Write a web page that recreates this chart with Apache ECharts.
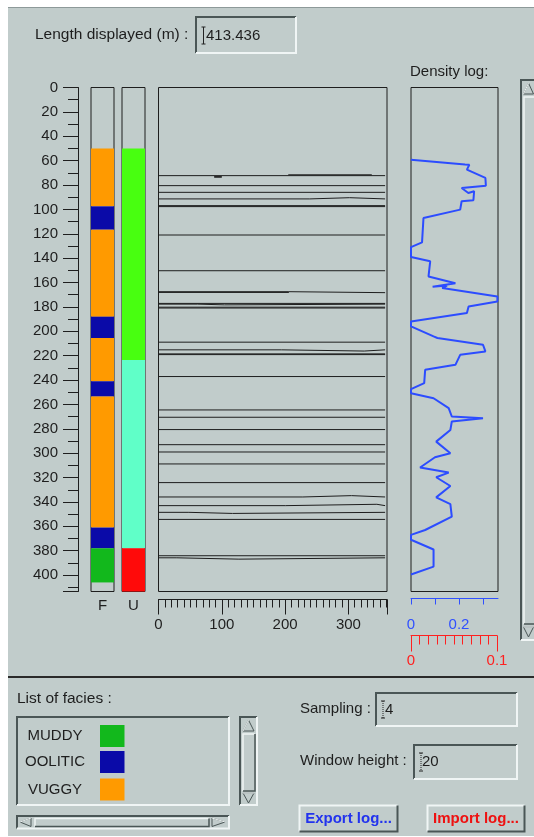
<!DOCTYPE html>
<html><head><meta charset="utf-8">
<script src="https://cdn.jsdelivr.net/npm/echarts@6/dist/echarts.min.js"></script>
<style>html,body{margin:0;padding:0;background:#fff;}#c{width:534px;height:837px;}</style>
</head><body><div id="c"></div>
<script>
// ---------------- data ----------------
const lengthDisplayed = 413.436;
const samplingValue = '4';
const windowHeightValue = '20';
const faciesNames = ['MUDDY', 'OOLITIC', 'VUGGY'];
const faciesColors = ['#12b81c', '#0a0aa8', '#ff9a00'];
// F column: [top depth, bottom depth, facies index]
const fColumn = [[50, 97.5, 2], [97.5, 116.6, 1], [116.6, 188, 2], [188, 205.5, 1], [205.5, 241, 2],
  [241, 253.5, 1], [253.5, 361, 2], [361, 378, 1], [378, 406, 0]];
const unitColors = ['#48ff10', '#60ffc8', '#ff0a0a'];
// U column: [top depth, bottom depth, unit index]
const uColumn = [[50, 223.5, 0], [223.5, 378, 1], [378, 413.436, 2]];
const columnNames = ['F', 'U'];
// blue density-axis labels shown
const densityAxisLabels = [0, 0.2];
// horizons in the central panel: polylines of [x, depth]
const horizons = [
  [[0, 72.3], [358, 72.3]], [[205, 71.6], [337, 71.6]], [[88, 73.1], [100, 73.1]], [[88, 73.6], [100, 73.6]],
  [[0, 80.5], [358, 80.5]],
  [[0, 86], [358, 86]],
  [[0, 91.4], [239, 91.4], [239, 90.4], [302, 90.4], [302, 91.4], [358, 91.4]],
  [[0, 96.9], [358, 96.9]], [[0, 97.7], [358, 97.7]],
  [[0, 121], [358, 121]],
  [[0, 150.3], [358, 150.3]],
  [[0, 167.5], [206, 167.5], [206, 168.3], [358, 168.3]], [[0, 168.1], [206, 168.1]],
  [[0, 177.1], [358, 177.1]], [[0, 177.7], [62, 177.7], [62, 178.3], [104, 178.3], [104, 177.7], [358, 177.7]],
  [[0, 180.2], [358, 180.2]], [[0, 180.9], [358, 180.9]],
  [[0, 208.9], [358, 208.9]],
  [[0, 215.2], [194.6, 215.2], [194.6, 216.2], [325, 216.2], [325, 215.2], [358, 215.2]],
  [[0, 218.5], [358, 218.5]], [[0, 219.1], [358, 219.1]],
  [[0, 237.1], [358, 237.1]],
  [[0, 264.5], [358, 264.5]],
  [[0, 270.5], [358, 270.5]],
  [[0, 280.6], [358, 280.6]],
  [[0, 293], [358, 293]],
  [[0, 299], [358, 299]],
  [[0, 308.8], [358, 308.8]],
  [[0, 324.1], [358, 324.1]],
  [[0, 335.9], [228, 335.9], [228, 334.8], [305, 334.8], [305, 335.9], [358, 335.9]],
  [[0, 343], [201, 343], [201, 341.9], [345, 341.9], [345, 343], [358, 343]],
  [[0, 348.5], [48, 348.5], [48, 349.4], [117, 349.4], [117, 348.5], [358, 348.5]],
  [[0, 354.3], [358, 354.3]],
  [[0, 384.1], [358, 384.1]],
  [[0, 385.8], [29, 385.8], [29, 386.9], [127, 386.9], [127, 385.8], [358, 385.8]]
];
// density log: [value, depth]
const densityLog = [
  [0, 59.3], [0.225, 63.2], [0.243, 63.4], [0.233, 67.4], [0.31, 74.2], [0.312, 80.5], [0.211, 82.4],
  [0.239, 86.5], [0.263, 85.1], [0.26, 92.5], [0.211, 93.3], [0.205, 100.2], [0.052, 107], [0.046, 127],
  [0, 130.9], [0, 139], [0.08, 142.6], [0.073, 155], [0.185, 160.5], [0.09, 163.5], [0.15, 162.5],
  [0.13, 164.5], [0.36, 171.4], [0.36, 175.5], [0.24, 179.6], [0.233, 185], [0, 191.9], [0, 196],
  [0.094, 204.2], [0.11, 205.5], [0.3, 211], [0.31, 216.5], [0.205, 219.3], [0.185, 227.5],
  [0.059, 231.6], [0.055, 242.5], [0, 247.5], [0, 250.8], [0.094, 254.9], [0.157, 263], [0.17, 269.9],
  [0.3, 271.3], [0.17, 274], [0.164, 281], [0.105, 290.5], [0.164, 300], [0.1, 303.3], [0.038, 311.7],
  [0.157, 315.9], [0.105, 319.7], [0.164, 326.9], [0.105, 336.2], [0.164, 341.7], [0.17, 352.1],
  [0.059, 363], [0, 367], [0, 371], [0.094, 379], [0.094, 393], [0, 399.5]
];

// ---------------- styles / helpers ----------------
const BG = '#c1cccb', DARK = '#4a5656', LIGHT = '#f0f5f5', INK = '#1e1e1e';
const FONT = '"Liberation Sans", Arial, sans-serif';
function bevel(x, y, w, h, sunken, lw) {
  lw = lw || 2;
  const tl = sunken ? DARK : LIGHT, br = sunken ? LIGHT : DARK;
  return [
    {type: 'polyline', silent: true, shape: {points: [[x, y + h], [x, y], [x + w, y]]}, style: {stroke: tl, lineWidth: lw, fill: null}},
    {type: 'polyline', silent: true, shape: {points: [[x + w, y], [x + w, y + h], [x, y + h]]}, style: {stroke: br, lineWidth: lw, fill: null}}
  ];
}
function txt(x, y, s, o) {
  o = o || {};
  return {type: 'text', silent: true, x: x, y: y, style: {
    text: s, fill: o.color || INK, font: (o.weight || 'normal') + ' ' + (o.size || 15) + 'px ' + FONT,
    textAlign: o.align || 'left', textVerticalAlign: 'middle', align: o.align || 'left', verticalAlign: 'middle'}};
}
function line(pts, color, lw) {
  return {type: 'polyline', silent: true, shape: {points: pts}, style: {stroke: color, lineWidth: lw || 1, fill: null}};
}
function tri(pts) {
  return [{type: 'polygon', silent: true, shape: {points: pts}, style: {fill: BG, stroke: DARK, lineWidth: 1}},
          line([pts[0], pts[1]], LIGHT, 1)];
}
function ibeam(x, y0, y1, dotted) {
  const st = dotted ? [1, 1] : null;
  return [
    {type: 'line', silent: true, shape: {x1: x, y1: y0, x2: x, y2: y1}, style: {stroke: '#222', lineWidth: 1, lineDash: st}},
    {type: 'line', silent: true, shape: {x1: x - 2, y1: y0, x2: x + 2, y2: y0}, style: {stroke: '#222', lineWidth: 1}},
    {type: 'line', silent: true, shape: {x1: x - 2, y1: y1, x2: x + 2, y2: y1}, style: {stroke: '#222', lineWidth: 1}}
  ];
}

// ---------------- GUI graphics ----------------
let g = [];
g.push({type: 'rect', silent: true, shape: {x: 0, y: 0, width: 534, height: 7}, style: {fill: '#ffffff'}});
g.push({type: 'rect', silent: true, shape: {x: 0, y: 0, width: 8, height: 837}, style: {fill: '#ffffff'}});
g.push({type: 'rect', silent: true, shape: {x: 0, y: 836, width: 534, height: 1}, style: {fill: '#ffffff'}});
g.push(line([[8, 7.5], [534, 7.5]], '#8d9999', 1));
g.push(line([[8, 677], [534, 677]], '#2a2a2a', 2));
// Length displayed
g.push(txt(35, 35, 'Length displayed (m) :', {size: 15.5}));
g = g.concat(bevel(196, 17, 100, 36, true));
g.push(txt(206, 35.5, String(lengthDisplayed)));
g = g.concat(ibeam(203.5, 27, 44, false));
g.push(txt(410, 72, 'Density log:'));
// right scrollbar
g = g.concat(bevel(521, 80, 18, 560, true, 2));
g = g.concat(bevel(524, 97, 16, 527, false, 1.5));
g = g.concat(tri([[523.5, 94], [528.5, 83], [533.5, 94]]));
g = g.concat(tri([[523.5, 627], [533.5, 627], [528.5, 637]]));
// List of facies
g.push(txt(17, 699, 'List of facies :', {size: 15.5}));
g = g.concat(bevel(17, 717, 212, 88, true));
faciesNames.forEach(function (n, i) {
  const cy = [736, 762, 789.5][i];
  g.push(txt(55, cy, n, {align: 'center'}));
  g.push({type: 'rect', silent: true, shape: {x: 100, y: cy - 11, width: 24.5, height: 22}, style: {fill: faciesColors[i]}});
});
// small vertical scrollbar
g = g.concat(bevel(240, 717, 17, 88, true, 2));
g = g.concat(bevel(243, 734, 12, 57, false, 1.5));
g = g.concat(tri([[243, 731], [248.5, 720], [254, 731]]));
g = g.concat(tri([[243, 793], [254, 793], [248.5, 803]]));
// horizontal scrollbar
g = g.concat(bevel(17, 816, 212, 12.5, true, 2));
g = g.concat(bevel(35, 818.5, 174, 8, false, 1.5));
g = g.concat(tri([[31, 818], [20, 822], [31, 826.5]]));
g = g.concat(tri([[212, 818], [225, 822], [212, 826.5]]));
// Sampling / Window height
g.push(txt(300, 708.5, 'Sampling :'));
g = g.concat(bevel(376, 693, 141, 33, true));
g.push(txt(385, 710, samplingValue));
g = g.concat(ibeam(383, 701, 718, true));
g.push(txt(300, 761, 'Window height :'));
g = g.concat(bevel(414, 745, 103, 34, true));
g.push(txt(422, 762, windowHeightValue));
g = g.concat(ibeam(421, 753, 771, true));
// buttons
g = g.concat(bevel(299.5, 805.5, 98, 26, false, 2));
g.push(txt(348.5, 818.5, 'Export log...', {align: 'center', weight: 'bold', color: '#2233ee'}));
g = g.concat(bevel(427.5, 805.5, 97, 26, false, 2));
g.push(txt(476, 818.5, 'Import log...', {align: 'center', weight: 'bold', color: '#ee1111'}));

// ---------------- chart ----------------
const TOP = 87.5, H = 504;
function hiddenY(gi) {
  return {type: 'value', gridIndex: gi, inverse: true, min: 0, max: lengthDisplayed, show: false};
}
const lbl = {fontSize: 15, fontFamily: FONT, color: INK};

function columnRender(cols, colors) {
  return function (params, api) {
    const d = cols[params.dataIndex];
    const cs = params.coordSys;
    const y0 = api.coord([0, d[0]])[1], y1 = api.coord([0, d[1]])[1];
    return {type: 'rect', shape: {x: cs.x, y: y0, width: cs.width, height: y1 - y0},
      style: {fill: colors[d[2]]}};
  };
}

const series = [
  {type: 'custom', xAxisIndex: 0, yAxisIndex: 0, renderItem: columnRender(fColumn, faciesColors),
    data: fColumn.map(function (d) { return [0, d[0], d[1]]; }), encode: {x: 0, y: [1, 2]}, silent: true},
  {type: 'custom', xAxisIndex: 1, yAxisIndex: 1, renderItem: columnRender(uColumn, unitColors),
    data: uColumn.map(function (d) { return [0, d[0], d[1]]; }), encode: {x: 0, y: [1, 2]}, silent: true}
];
horizons.forEach(function (h) {
  series.push({type: 'line', xAxisIndex: 2, yAxisIndex: 2, data: h, symbol: 'none', silent: true,
    lineStyle: {color: INK, width: 1}, clip: false});
});
series.push({type: 'line', xAxisIndex: 3, yAxisIndex: 3, data: densityLog, symbol: 'none', silent: true,
  lineStyle: {color: '#2c4cff', width: 2}, clip: false, z: 5});

const option = {
  backgroundColor: BG,
  animation: false,
  graphic: {elements: g},
  grid: [
    {left: 91, top: TOP, width: 23, height: H, show: true, borderColor: INK, borderWidth: 1, outerBoundsMode: 'none'},
    {left: 122, top: TOP, width: 23, height: H, show: true, borderColor: INK, borderWidth: 1, outerBoundsMode: 'none'},
    {left: 158.5, top: TOP, width: 228.5, height: H, show: true, borderColor: INK, borderWidth: 1, outerBoundsMode: 'none'},
    {left: 411, top: TOP, width: 87, height: H, show: true, borderColor: INK, borderWidth: 1, outerBoundsMode: 'none'},
    {left: 411, top: TOP, width: 86, height: H, show: false, outerBoundsMode: 'none'}
  ],
  xAxis: [
    {type: 'category', gridIndex: 0, data: [columnNames[0]], axisLine: {show: false, onZero: false}, axisTick: {show: false},
      axisLabel: Object.assign({margin: 7}, lbl), splitLine: {show: false}},
    {type: 'category', gridIndex: 1, data: [columnNames[1]], axisLine: {show: false, onZero: false}, axisTick: {show: false},
      axisLabel: Object.assign({margin: 7}, lbl), splitLine: {show: false}},
    {type: 'value', gridIndex: 2, min: 0, max: 361, interval: 100, position: 'bottom', offset: 8,
      axisLine: {show: true, onZero: false, lineStyle: {color: INK, width: 1}},
      axisTick: {show: true, inside: false, length: 15, lineStyle: {color: INK}},
      minorTick: {show: true, splitNumber: 10, length: 8, lineStyle: {color: INK}},
      axisLabel: Object.assign({margin: 18, showMaxLabel: false}, lbl), splitLine: {show: false}, minorSplitLine: {show: false}},
    {type: 'value', gridIndex: 3, min: 0, max: 0.3625, interval: 0.1, position: 'bottom', offset: 7,
      axisLine: {show: true, onZero: false, lineStyle: {color: '#3050ff', width: 1}},
      axisTick: {show: true, inside: false, length: 6, lineStyle: {color: '#3050ff'}},
      axisLabel: Object.assign({}, lbl, {margin: 19, color: '#3050ff', showMaxLabel: false,
        formatter: function (v) {
          return densityAxisLabels.some(function (a) { return Math.abs(a - v) < 1e-6; }) ? String(Math.round(v * 10) / 10) : '';
        }}),
      splitLine: {show: false}},
    {type: 'value', gridIndex: 4, min: 0, max: 0.1, interval: 0.1, position: 'bottom', offset: 44,
      axisLine: {show: true, onZero: false, lineStyle: {color: '#ff2020', width: 1}},
      axisTick: {show: true, inside: false, length: 16, lineStyle: {color: '#ff2020'}},
      minorTick: {show: true, splitNumber: 10, length: 9, lineStyle: {color: '#ff2020'}},
      axisLabel: Object.assign({}, lbl, {margin: 18, color: '#ff2020'}),
      splitLine: {show: false}, minorSplitLine: {show: false}}
  ],
  yAxis: [
    {type: 'value', gridIndex: 0, inverse: true, min: 0, max: lengthDisplayed, interval: 20, position: 'left', offset: 13,
      axisLine: {show: true, onZero: false, lineStyle: {color: INK, width: 1}},
      axisTick: {show: true, inside: false, length: 15, lineStyle: {color: INK}},
      minorTick: {show: true, splitNumber: 2, length: 10, lineStyle: {color: INK}},
      axisLabel: Object.assign({margin: 20, showMaxLabel: false}, lbl), splitLine: {show: false}, minorSplitLine: {show: false}},
    hiddenY(1), hiddenY(2), hiddenY(3), hiddenY(4)
  ],
  series: series
};
const chart = echarts.init(document.getElementById('c'), null, {renderer: 'canvas', width: 534, height: 837});
chart.setOption(option);
</script></body></html>
